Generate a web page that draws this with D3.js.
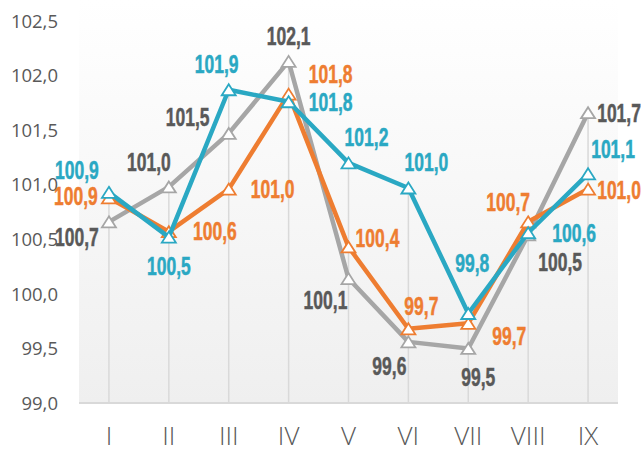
<!DOCTYPE html>
<html><head><meta charset="utf-8">
<script src="https://cdn.jsdelivr.net/npm/d3@7"></script>
<style>
html,body{margin:0;padding:0;background:#fff;}
svg{display:block;}
</style></head>
<body>
<svg id="chart" width="641" height="451"></svg>
<script>
// ---- data ----
const categories = ["I","II","III","IV","V","VI","VII","VIII","IX"];
const seriesGray   = [100.66, 100.98, 101.47, 102.13, 100.14, 99.56, 99.50, 100.54, 101.66];
const seriesOrange = [100.88, 100.57, 100.96, 101.83, 100.43, 99.68, 99.73, 100.66, 100.96];
const seriesTeal   = [100.93, 100.52, 101.87, 101.76, 101.20, 100.97, 99.82, 100.56, 101.10];
const yTicks = [99.0, 99.5, 100.0, 100.5, 101.0, 101.5, 102.0, 102.5];

(function(){
// ---- layout / style ----
const labelOffsets = {
  gray:   [[-32,15],[-20,-25],[-41,-16],[0,-25],[-23,21],[-19,24],[10,29],[32,27],[31,0]],
  orange: [[-33,-2],[46,-1],[44,0],[42,-20],[29,-9],[13,-23],[41,13],[-20,-20],[31,1]],
  teal:   [[-32,-22],[0,29],[-12,-26],[42,0],[18,-26],[18,-26],[4,-51],[46,0],[25,-25]]
};
const series = [
  {key:"gray",   values:seriesGray,   line:"#a6a6a6", marker:"#a6a6a6", label:"#595959"},
  {key:"orange", values:seriesOrange, line:"#ee7d31", marker:"#ee7d31", label:"#ee7d31"},
  {key:"teal",   values:seriesTeal,   line:"#2aa8c3", marker:"#2aa8c3", label:"#2aa8c3"}
];

const svg = d3.select("#chart");
const pLeft = 79, pRight = 618, pTop = 21, pBottom = 403;
const x = d3.scalePoint().domain(categories).range([pLeft, pRight]).padding(0.5);
const y = d3.scaleLinear().domain([99, 102.5]).range([pBottom, pTop]);
const fmt = d3.formatLocale({decimal:",", thousands:".", grouping:[3], currency:["",""]}).format(".1f");

// background gradient
const defs = svg.append("defs");
const grad = defs.append("linearGradient").attr("id","bg").attr("x1",0).attr("y1",0).attr("x2",0).attr("y2",1);
grad.append("stop").attr("offset","0%").attr("stop-color","#ffffff");
grad.append("stop").attr("offset","100%").attr("stop-color","#efefef");
svg.append("rect").attr("x",pLeft).attr("y",0).attr("width",pRight-pLeft).attr("height",pBottom)
  .attr("fill","url(#bg)");

// y axis labels
svg.append("g").selectAll("text").data(yTicks).join("text")
  .attr("x",58).attr("y",d=>y(d)).attr("dy","0.36em")
  .attr("text-anchor","end")
  .attr("font-family","'Open Sans', sans-serif").attr("font-size",18.5)
  .attr("fill","#595959").text(d=>fmt(d));

// drop lines
svg.append("g").selectAll("line").data(categories).join("line")
  .attr("x1",d=>x(d)).attr("x2",d=>x(d))
  .attr("y1",(d,i)=>y(Math.max(seriesGray[i],seriesOrange[i],seriesTeal[i])))
  .attr("y2",pBottom)
  .attr("stroke","#d9d9d9").attr("stroke-width",1.5);

// x axis line
svg.append("line").attr("x1",pLeft).attr("x2",pRight).attr("y1",pBottom).attr("y2",pBottom)
  .attr("stroke","#d9d9d9").attr("stroke-width",2);

// x labels
svg.append("g").selectAll("text").data(categories).join("text")
  .attr("x",d=>x(d)).attr("y",445)
  .attr("text-anchor","middle")
  .attr("font-family","'Open Sans', sans-serif").attr("font-weight",300).attr("font-size",26)
  .attr("fill","#595959").text(d=>d);

// lines + markers
const line = d3.line().x((d,i)=>x(categories[i])).y(d=>y(d));
const tri = "M0,-5.5L7,5.5L-7,5.5Z";
series.forEach(s=>{
  const g = svg.append("g");
  g.append("path").attr("d",line(s.values)).attr("fill","none")
    .attr("stroke",s.line).attr("stroke-width",4.5).attr("stroke-linejoin","round");
  g.selectAll("path.m").data(s.values).join("path").attr("class","m")
    .attr("d",tri).attr("transform",(d,i)=>`translate(${x(categories[i])},${y(d)})`)
    .attr("fill","#fff").attr("stroke",s.marker).attr("stroke-width",1.8);
});

// labels (condensed bold)
series.forEach(s=>{
  svg.append("g").selectAll("text").data(s.values).join("text")
    .attr("transform",(d,i)=>`translate(${x(categories[i])+labelOffsets[s.key][i][0]},${y(d)+labelOffsets[s.key][i][1]}) scale(0.7,1)`)
    .attr("dy","0.36em").attr("text-anchor","middle")
    .attr("font-family","'Liberation Sans', Arial, sans-serif")
    .attr("font-weight","bold").attr("font-size",25)
    .attr("fill",s.label).attr("stroke",s.label).attr("stroke-width",0.5)
    .text(d=>fmt(d));
});
})();
</script>
</body></html>
